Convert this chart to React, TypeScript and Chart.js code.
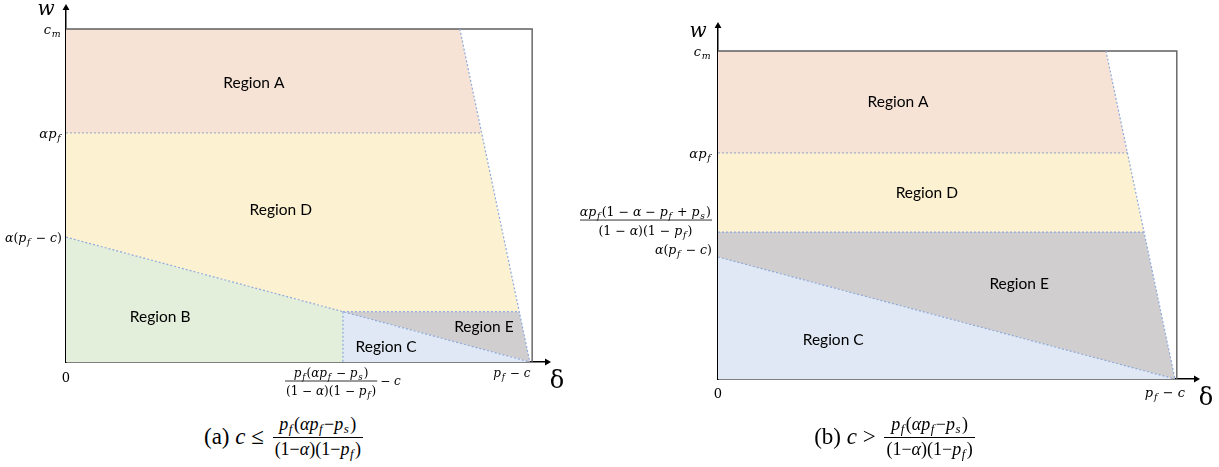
import React, { useEffect, useRef } from 'react';
import { Chart, registerables } from 'chart.js';

Chart.register(...registerables);

// ---------------- Panel (a): c ≤ p_f(αp_f − p_s)/((1−α)(1−p_f)) ----------------
const A_DELTA_TICKS = [0, 5.97, 10];        // 0, δ* , p_f − c
const A_W_TICKS = [10, 6.88, 3.75];         // c_m, αp_f, α(p_f − c)
const A_W_KINK = 1.51;                      // w where the B/C line meets δ*
const A_SLANT_X = [8.49, 8.96, 9.77, 10];   // slanted boundary δ at w = c_m, αp_f, kink, 0
const A_FRAME_X = 10.05;
const A_AXIS_MAX = [10.37, 10.63];

// ---------------- Panel (b): c > ... ----------------
const B_DELTA_TICKS = [0, 10];              // 0, p_f − c
const B_W_TICKS = [10, 6.89, 4.48, 3.72];   // c_m, αp_f, αp_f(1−α−p_f+p_s)/(...), α(p_f − c)
const B_SLANT_X = [8.49, 8.96, 9.32, 10];   // slanted boundary δ at w = c_m, αp_f, E-top, 0
const B_FRAME_X = 10.04;
const B_AXIS_MAX = [10.46, 10.76];

const REGION_A_NAMES = ['Region A', 'Region D', 'Region B', 'Region C', 'Region E'];
const REGION_A_AT = [[4.05, 8.38], [4.63, 4.56], [2.03, 1.35], [6.9, 0.45], [9.01, 1.05]];
const REGION_B_NAMES = ['Region A', 'Region D', 'Region E', 'Region C'];
const REGION_B_AT = [[3.94, 8.45], [4.57, 5.67], [6.59, 2.9], [2.52, 1.19]];

const COL = {
  A: '#f6e3d6',
  D: '#fcf1d0',
  B: '#e3efda',
  C: '#dfe8f4',
  E: '#d0cece',
};
const BLUE_DOT = '#8faadc';
const GRAY_DOT = '#a7b0c9';
const FRAME = '#5f5f5f';

type Seg = [string, 'i' | 'r' | 's'];
type Label =
  | { type: 'text'; segs: Seg[]; size: number }
  | { type: 'frac'; num: Seg[]; den: Seg[]; size: number; suffix?: Seg[] };

const MFONT = '"DejaVu Serif", "Liberation Serif", serif';

function fontFor(k: string, size: number) {
  if (k === 'r') return `${size}px ${MFONT}`;
  if (k === 'i') return `italic ${size}px ${MFONT}`;
  return `italic ${(size * 0.72).toFixed(1)}px ${MFONT}`;
}
function segAdvance(ctx: CanvasRenderingContext2D, t: string, k: string, size: number) {
  ctx.font = fontFor(k, size);
  const w = ctx.measureText(t).width;
  return k === 's' ? w + size * 0.16 : w;
}
function segsWidth(ctx: CanvasRenderingContext2D, segs: Seg[], size: number) {
  let w = 0;
  for (const [t, k] of segs) w += segAdvance(ctx, t, k, size);
  return w;
}
function drawSegs(ctx: CanvasRenderingContext2D, segs: Seg[], x: number, cy: number, size: number) {
  const base = cy + size * 0.36;
  for (const [t, k] of segs) {
    ctx.font = fontFor(k, size);
    ctx.fillText(t, k === 's' ? x + size * 0.06 : x, k === 's' ? base + size * 0.24 : base);
    x += segAdvance(ctx, t, k, size);
  }
}
function labelWidth(ctx: CanvasRenderingContext2D, lab: Label) {
  if (lab.type === 'text') return segsWidth(ctx, lab.segs, lab.size);
  const bw = Math.max(segsWidth(ctx, lab.num, lab.size), segsWidth(ctx, lab.den, lab.size)) + 2;
  return bw + (lab.suffix ? 3 + segsWidth(ctx, lab.suffix, lab.size) : 0);
}
function drawLabel(ctx: CanvasRenderingContext2D, lab: Label, left: number, cy: number) {
  if (lab.type === 'text') {
    drawSegs(ctx, lab.segs, left, cy, lab.size);
    return;
  }
  const nw = segsWidth(ctx, lab.num, lab.size);
  const dw = segsWidth(ctx, lab.den, lab.size);
  const bw = Math.max(nw, dw) + 2;
  drawSegs(ctx, lab.num, left + (bw - nw) / 2, cy - lab.size * 0.7, lab.size);
  drawSegs(ctx, lab.den, left + (bw - dw) / 2, cy + lab.size * 0.8, lab.size);
  ctx.fillRect(left, cy - 0.4, bw, 0.8);
  if (lab.suffix) drawSegs(ctx, lab.suffix, left + bw + 3, cy, lab.size);
}

const MINUS = ' \u2212 ';
const L_CM = (s: number): Label => ({ type: 'text', size: s, segs: [['c', 'i'], ['m', 's']] });
const L_APF = (s: number): Label => ({ type: 'text', size: s, segs: [['α', 'i'], ['p', 'i'], ['f', 's']] });
const L_APFC = (s: number): Label => ({
  type: 'text', size: s,
  segs: [['α', 'i'], ['(', 'r'], ['p', 'i'], ['f', 's'], [MINUS, 'r'], ['c', 'i'], [')', 'r']],
});
const L_ZERO = (s: number): Label => ({ type: 'text', size: s, segs: [['0', 'r']] });
const L_PFC = (s: number): Label => ({ type: 'text', size: s, segs: [['p', 'i'], ['f', 's'], [MINUS, 'r'], ['c', 'i']] });
const DEN: Seg[] = [['(1', 'r'], [MINUS, 'r'], ['α', 'i'], [')(1', 'r'], [MINUS, 'r'], ['p', 'i'], ['f', 's'], [')', 'r']];
const L_DSTAR = (s: number): Label => ({
  type: 'frac', size: s,
  num: [['p', 'i'], ['f', 's'], ['(', 'r'], ['α', 'i'], ['p', 'i'], ['f', 's'], [MINUS, 'r'], ['p', 'i'], ['s', 's'], [')', 'r']],
  den: DEN,
  suffix: [['\u2212 ', 'r'], ['c', 'i']],
});
const L_WE = (s: number): Label => ({
  type: 'frac', size: s,
  num: [['α', 'i'], ['p', 'i'], ['f', 's'], ['(1', 'r'], [MINUS, 'r'], ['α', 'i'], [MINUS, 'r'], ['p', 'i'], ['f', 's'], [' + ', 'r'], ['p', 'i'], ['s', 's'], [')', 'r']],
  den: DEN,
});

function poly(points: number[][], color: string) {
  const pts = points.map(([x, y]) => ({ x, y }));
  pts.push({ ...pts[0] });
  return {
    data: pts, showLine: true, fill: 'shape', backgroundColor: color,
    borderColor: 'rgba(0,0,0,0)', borderWidth: 0, pointRadius: 0,
  };
}
function lineDs(points: number[][], color: string, width: number, dash: number[]) {
  return {
    data: points.map(([x, y]) => ({ x, y })), showLine: true, fill: false,
    borderColor: color, borderWidth: width, borderDash: dash, pointRadius: 0, clip: false,
  };
}
function arrowDs(x: number, y: number, rot: number) {
  return {
    data: [{ x, y }], showLine: false, pointStyle: 'triangle', pointRadius: 4,
    pointRotation: rot, pointBackgroundColor: '#000', pointBorderColor: '#000', pointBorderWidth: 0, clip: false,
  };
}

interface Panel {
  canvas: { left: number; width: number; height: number };
  padding: { left: number; top: number; right: number; bottom: number };
  xMax: number;
  yMax: number;
  datasets: any[];
  regions: [string, number, number][];
  yTicks: number[];
  yLabels: Label[];
  yDy: number[];
  yGap: number;
  xTicks: number[];
  xLabels: Label[];
  xDx: number[];
  xDy: number[];
  wDy: number;
}

function panelA(): Panel {
  const [d0, dS, dM] = A_DELTA_TICKS;
  const [cm, apf, apfc] = A_W_TICKS;
  const k = A_W_KINK;
  const [s0, s1, s2, s3] = A_SLANT_X;
  const datasets = [
    lineDs([[d0, apf], [s1, apf]], GRAY_DOT, 1.2, [2, 2]),
    lineDs([[s0, cm], [s3, 0]], BLUE_DOT, 1.2, [2, 2]),
    lineDs([[d0, apfc], [dM, 0]], BLUE_DOT, 1.2, [2, 2]),
    lineDs([[dS, k], [s2, k]], BLUE_DOT, 1.2, [2, 2]),
    lineDs([[dS, k], [dS, 0]], BLUE_DOT, 1.2, [2, 2]),
    lineDs([[d0, cm], [A_FRAME_X, cm], [A_FRAME_X, 0]], FRAME, 1.4, []),
    arrowDs(0, A_AXIS_MAX[1], 0),
    arrowDs(A_AXIS_MAX[0], 0, 90),
    poly([[d0, cm], [s0, cm], [s1, apf], [d0, apf]], COL.A),
    poly([[d0, apf], [s1, apf], [s2, k], [dS, k], [d0, apfc]], COL.D),
    poly([[d0, apfc], [dS, k], [dS, 0], [d0, 0]], COL.B),
    poly([[dS, k], [s3, 0], [dS, 0]], COL.C),
    poly([[dS, k], [s2, k], [s3, 0]], COL.E),
  ];
  return {
    canvas: { left: 0, width: 580, height: 410 },
    padding: { left: 66, top: 8, right: 33, bottom: 48 },
    xMax: A_AXIS_MAX[0],
    yMax: A_AXIS_MAX[1],
    datasets,
    regions: REGION_A_NAMES.map((n, i) => [n, REGION_A_AT[i][0], REGION_A_AT[i][1]]),
    yTicks: A_W_TICKS,
    yLabels: [L_CM(13), L_APF(13), L_APFC(12.5)],
    yDy: [0, 0, 0],
    yGap: 4,
    xTicks: A_DELTA_TICKS,
    xLabels: [L_ZERO(13), L_DSTAR(12), L_PFC(12)],
    xDx: [0, 0, -18],
    xDy: [15, 19, 11],
    wDy: 0,
  };
}

function panelB(): Panel {
  const [d0, dM] = B_DELTA_TICKS;
  const [cm, apf, we, apfc] = B_W_TICKS;
  const [s0, s1, s2, s3] = B_SLANT_X;
  const datasets = [
    lineDs([[d0, apf], [s1, apf]], GRAY_DOT, 1.2, [2, 2]),
    lineDs([[d0, we], [s2, we]], BLUE_DOT, 1.2, [2, 2]),
    lineDs([[s0, cm], [s3, 0]], BLUE_DOT, 1.2, [2, 2]),
    lineDs([[d0, apfc], [dM, 0]], BLUE_DOT, 1.2, [2, 2]),
    lineDs([[d0, cm], [B_FRAME_X, cm], [B_FRAME_X, 0]], FRAME, 1.4, []),
    arrowDs(0, B_AXIS_MAX[1], 0),
    arrowDs(B_AXIS_MAX[0], 0, 90),
    poly([[d0, cm], [s0, cm], [s1, apf], [d0, apf]], COL.A),
    poly([[d0, apf], [s1, apf], [s2, we], [d0, we]], COL.D),
    poly([[d0, we], [s2, we], [s3, 0], [d0, apfc]], COL.E),
    poly([[d0, apfc], [s3, 0], [d0, 0]], COL.C),
  ];
  return {
    canvas: { left: 580, width: 639, height: 420 },
    padding: { left: 138, top: 26, right: 23, bottom: 41 },
    xMax: B_AXIS_MAX[0],
    yMax: B_AXIS_MAX[1],
    datasets,
    regions: REGION_B_NAMES.map((n, i) => [n, REGION_B_AT[i][0], REGION_B_AT[i][1]]),
    yTicks: B_W_TICKS,
    yLabels: [L_CM(13), L_APF(13), L_WE(12.5), L_APFC(12.5)],
    yDy: [0, 0, -12, -7],
    yGap: 6,
    xTicks: B_DELTA_TICKS,
    xLabels: [L_ZERO(13), L_PFC(13)],
    xDx: [0, -10],
    xDy: [14, 13],
    wDy: 4,
  };
}

function makePlugin(p: Panel) {
  return {
    id: 'mathLabels',
    afterDraw(chart: any) {
      const ctx: CanvasRenderingContext2D = chart.ctx;
      const xs = chart.scales.x;
      const ys = chart.scales.y;
      const area = chart.chartArea;
      ctx.save();
      ctx.fillStyle = '#000';
      ctx.textAlign = 'center';
      ctx.textBaseline = 'middle';
      ctx.font = '15.5px Lato, "Open Sans", sans-serif';
      for (const [name, x, y] of p.regions) {
        ctx.fillText(name, xs.getPixelForValue(x), ys.getPixelForValue(y));
      }
      ctx.textAlign = 'left';
      ctx.textBaseline = 'alphabetic';
      const x0 = xs.getPixelForValue(0);
      const y0 = ys.getPixelForValue(0);
      p.yTicks.forEach((v, i) => {
        const lab = p.yLabels[i];
        const w = labelWidth(ctx, lab);
        drawLabel(ctx, lab, x0 - p.yGap - w, ys.getPixelForValue(v) + p.yDy[i]);
      });
      p.xTicks.forEach((v, i) => {
        const lab = p.xLabels[i];
        const w = labelWidth(ctx, lab);
        drawLabel(ctx, lab, xs.getPixelForValue(v) + p.xDx[i] - w / 2, y0 + p.xDy[i]);
      });
      // axis names
      ctx.textAlign = 'center';
      ctx.textBaseline = 'middle';
      ctx.font = `italic 20px ${MFONT}`;
      ctx.fillText('w', x0 - 20, area.top + 2 + p.wDy);
      ctx.font = `24px ${MFONT}`;
      ctx.fillText('δ', area.right + 10, y0 + 20);
      ctx.restore();
    },
  };
}

function PanelChart({ panel }: { panel: Panel }) {
  const ref = useRef<HTMLCanvasElement | null>(null);
  useEffect(() => {
    if (!ref.current) return;
    const axisScale = (min: number, max: number, position: string) => ({
      type: 'linear',
      position,
      min,
      max,
      display: true,
      grid: { display: false, drawTicks: false },
      ticks: { display: false },
      border: { display: true, color: '#000', width: 1.5 },
      afterFit: (s: any) => {
        if (position === 'bottom') s.height = 0;
        else s.width = 0;
      },
    });
    const chart = new Chart(ref.current, {
      type: 'scatter',
      data: { datasets: panel.datasets },
      options: {
        responsive: false,
        animation: false,
        events: [],
        layout: { padding: panel.padding },
        plugins: { legend: { display: false }, tooltip: { enabled: false } },
        scales: {
          x: axisScale(0, panel.xMax, 'bottom'),
          y: axisScale(0, panel.yMax, 'left'),
        },
      } as any,
      plugins: [makePlugin(panel)],
    } as any);
    return () => chart.destroy();
  }, [panel]);
  return (
    <canvas
      ref={ref}
      width={panel.canvas.width}
      height={panel.canvas.height}
      style={{ position: 'absolute', left: panel.canvas.left, top: 0, width: panel.canvas.width, height: panel.canvas.height }}
    />
  );
}

const sub = (t: string) => (
  <span style={{ fontSize: '0.72em', position: 'relative', top: '0.3em', fontStyle: 'italic', margin: '0 1.5px 0 0.5px' }}>{t}</span>
);

function Frac({ num, den }: { num: React.ReactNode; den: React.ReactNode }) {
  return (
    <span style={{ display: 'inline-flex', flexDirection: 'column', alignItems: 'center', fontSize: 18, lineHeight: '21px', margin: '0 3px' }}>
      <span style={{ padding: '0 2px 1px' }}>{num}</span>
      <span style={{ borderTop: '1px solid #000', padding: '1px 2px 0', alignSelf: 'stretch', textAlign: 'center' }}>{den}</span>
    </span>
  );
}

function Caption({ tag, rel, center }: { tag: string; rel: string; center: number }) {
  const num = (
    <>
      <i>p</i>{sub('f')}(<i>αp</i>{sub('f')}−<i>p</i>{sub('s')})
    </>
  );
  const den = (
    <>
      (1−<i>α</i>)(1−<i>p</i>{sub('f')})
    </>
  );
  return (
    <div
      style={{
        position: 'absolute', left: center - 185, top: 410, width: 370, height: 54,
        display: 'flex', justifyContent: 'center', alignItems: 'center',
        fontFamily: '"Liberation Serif", serif', fontSize: 23, color: '#000', whiteSpace: 'nowrap',
      }}
    >
      <span>{tag}&nbsp;</span>
      <i>c</i>
      <span>&nbsp;{rel}&nbsp;</span>
      <Frac num={num} den={den} />
    </div>
  );
}

const PANEL_A = panelA();
const PANEL_B = panelB();

export default function App() {
  return (
    <div style={{ position: 'absolute', left: 0, top: 0, width: 1219, height: 467, background: '#fff', overflow: 'hidden' }}>
      <PanelChart panel={PANEL_A} />
      <PanelChart panel={PANEL_B} />
      <Caption tag="(a)" rel="≤" center={285} />
      <Caption tag="(b)" rel=">" center={896} />
    </div>
  );
}
